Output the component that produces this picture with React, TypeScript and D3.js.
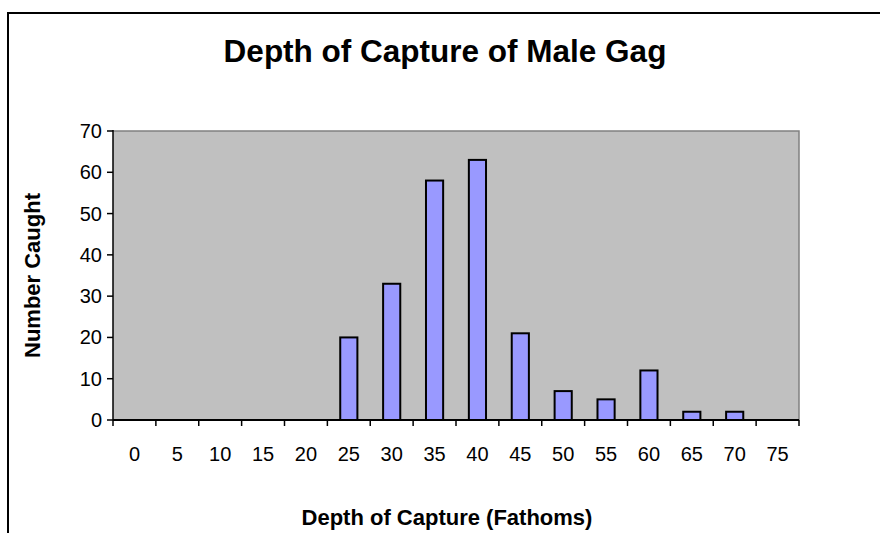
import React from "react";
import * as d3 from "d3";

const depths = ["0","5","10","15","20","25","30","35","40","45","50","55","60","65","70","75"];
const counts = [0,0,0,0,0,20,33,58,63,21,7,5,12,2,2,0];
const yTicks = [0,10,20,30,40,50,60,70];
const title = "Depth of Capture of Male Gag";
const xTitle = "Depth of Capture (Fathoms)";
const yTitle = "Number Caught";

export default function App() {
  const W = 880, H = 533;
  const left = 113, right = 799, top = 131, bottom = 420;
  const x = d3.scaleBand<string>().domain(depths).range([left, right]).paddingInner(0.6).paddingOuter(0.3);
  const xb = d3.scaleBand<string>().domain(depths).range([left, right]);
  const y = d3.scaleLinear().domain([0, 70]).range([bottom, top]);
  const font = "Liberation Sans, Arial, sans-serif";
  const boundaries = depths.map((d) => xb(d) as number).concat([right]);
  return (
    <svg width={W} height={H} style={{ position: "absolute", left: 0, top: 0 }}>
      <rect x={0} y={0} width={W} height={H} fill="#fff" />
      <path d={`M8,${H}V13H${W}`} fill="none" stroke="#000" strokeWidth={2} />
      <text x={445} y={62} textAnchor="middle" fontFamily={font} fontWeight="bold" fontSize={31.5}>{title}</text>
      <rect x={left} y={top} width={right - left} height={bottom - top} fill="#C0C0C0" />
      <path d={`M${left},${top}H${right}V${bottom}`} fill="none" stroke="#808080" strokeWidth={1.5} />
      {depths.map((d, i) => counts[i] > 0 ? (
        <rect key={d} x={x(d)} y={y(counts[i])} width={x.bandwidth()} height={bottom - y(counts[i])}
          fill="#9999FF" stroke="#000" strokeWidth={2} />
      ) : null)}
      <line x1={left} y1={top - 1} x2={left} y2={bottom} stroke="#000" strokeWidth={1.5} />
      <line x1={left} y1={bottom} x2={right} y2={bottom} stroke="#000" strokeWidth={2} />
      {yTicks.map((t) => (
        <g key={t}>
          <line x1={left - 6} x2={left} y1={y(t)} y2={y(t)} stroke="#000" strokeWidth={1.5} />
          <text x={102} y={y(t) + 7} textAnchor="end" fontFamily={font} fontSize={20}>{t}</text>
        </g>
      ))}
      {boundaries.map((b, i) => (
        <line key={i} x1={b} x2={b} y1={bottom} y2={bottom + 6} stroke="#000" strokeWidth={1.5} />
      ))}
      {depths.map((d) => (
        <text key={d} x={(xb(d) as number) + xb.bandwidth() / 2} y={461} textAnchor="middle" fontFamily={font} fontSize={20}>{d}</text>
      ))}
      <text x={447} y={525} textAnchor="middle" fontFamily={font} fontWeight="bold" fontSize={22}>{xTitle}</text>
      <text transform={`translate(40,${(top + bottom) / 2}) rotate(-90)`} textAnchor="middle" fontFamily={font} fontWeight="bold" fontSize={22}>{yTitle}</text>
    </svg>
  );
}
